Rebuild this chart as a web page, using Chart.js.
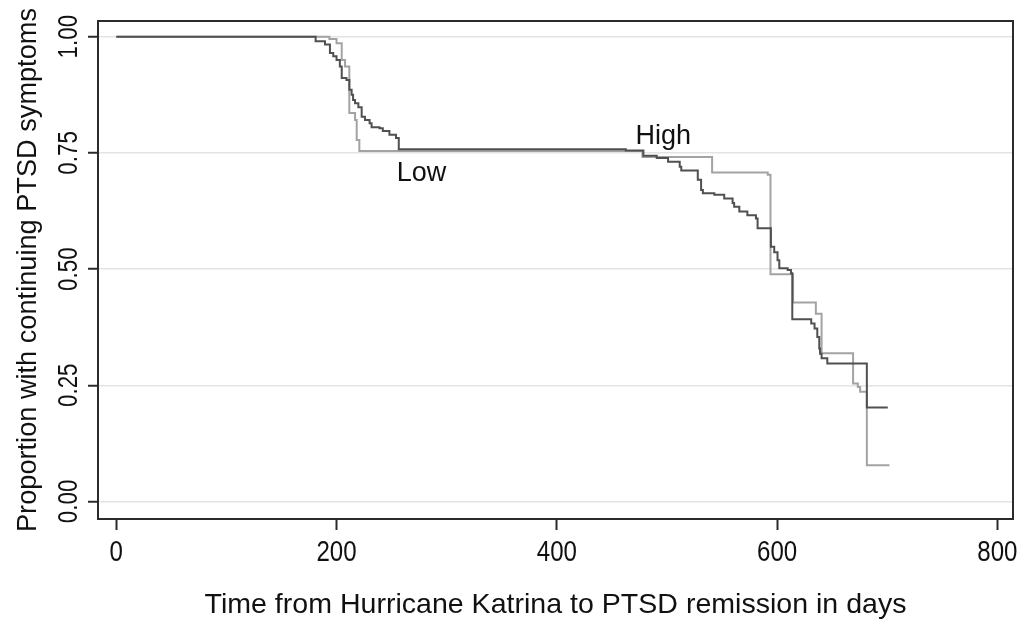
<!DOCTYPE html>
<html>
<head>
<meta charset="utf-8">
<title>PTSD remission after Katrina</title>
<script src="https://cdn.jsdelivr.net/npm/chart.js@4.4.1/dist/chart.umd.min.js"></script>
<style>
  html, body { margin: 0; padding: 0; background: #fff; }
  canvas { display: block; }
</style>
</head>
<body>
<canvas id="km" width="1018" height="620"></canvas>
<script>
// Kaplan-Meier steps: day of each drop and the proportion after it
const highDays = [0, 181, 189.5, 194, 197, 200, 203, 204.7, 209, 211.6, 213.7, 215, 216.8, 219.8, 222.8,
    225.8, 230, 231.8, 239, 242, 248, 254, 256.5, 462.6, 478.6, 490.7, 501, 511.6, 513, 528, 531,
    532.6, 543, 552, 559.6, 561, 565.7, 573, 580.8, 582.3, 594.4, 597.4, 600.4, 602, 609.6, 612.6,
    613.8, 631, 634, 636.5, 638.3, 639, 640.4, 645.6, 681.5, 700.5];
const highSurv = [1, 0.990, 0.983, 0.965, 0.958, 0.950, 0.936, 0.911, 0.907, 0.886, 0.875, 0.864, 0.857, 0.848, 0.828,
    0.821, 0.814, 0.805, 0.803, 0.797, 0.789, 0.782, 0.758, 0.755, 0.744, 0.739, 0.731, 0.720, 0.712, 0.692, 0.670,
    0.663, 0.660, 0.652, 0.642, 0.634, 0.624, 0.616, 0.609, 0.588, 0.548, 0.536, 0.519, 0.502, 0.498, 0.491,
    0.392, 0.383, 0.372, 0.354, 0.329, 0.318, 0.308, 0.297, 0.202, 0.202];

const lowDays = [0, 193.5, 200, 204.7, 207.7, 211.6, 216.8, 218.3, 220.7, 477.7, 541, 591.5, 594,
    614.5, 635.2, 640.4, 669, 673.3, 675.4, 681.5, 702];
const lowSurv = [1, 0.995, 0.986, 0.950, 0.936, 0.836, 0.821, 0.778, 0.754, 0.741, 0.708, 0.703, 0.489,
    0.428, 0.404, 0.319, 0.254, 0.246, 0.236, 0.078, 0.078];

const xTicks = [0, 200, 400, 600, 800];
const xTickLabels = ['0', '200', '400', '600', '800'];
const yTicks = [0, 0.25, 0.5, 0.75, 1];
const yTickLabels = ['0.00', '0.25', '0.50', '0.75', '1.00'];

// curve labels placed in data units (left edge / baseline)
const curveNames = ['High', 'Low'];
const nameDays = [471.5, 254.7];
const nameSurv = [0.769, 0.690];

const xTitle = 'Time from Hurricane Katrina to PTSD remission in days';
const yTitle = 'Proportion with continuing PTSD symptoms';

const FONT = '"Liberation Sans", Arial, sans-serif';
const INK = '#111';

function toPoints(days, surv) {
    return days.map((d, i) => ({ x: d, y: surv[i] }));
}

/**
 * Draw text squeezed horizontally, optionally rotated
 */
function squeezeText(ctx, text, x, y, size, sx, angle) {
    ctx.save();
    ctx.translate(x, y);
    if (angle) ctx.rotate(angle);
    ctx.font = size + 'px ' + FONT;
    if (sx === 'fit') sx = 1;
    ctx.scale(sx, 1);
    ctx.fillText(text, 0, 0);
    ctx.restore();
}

function fitScale(ctx, text, size, target) {
    ctx.save();
    ctx.font = size + 'px ' + FONT;
    const w = ctx.measureText(text).width;
    ctx.restore();
    return target / w;
}

const framePlugin = {
    id: 'frame',
    afterDraw(chart) {
        const { ctx, chartArea: a, scales } = chart;
        ctx.save();
        ctx.strokeStyle = '#2b2b2b';
        ctx.lineWidth = 2;
        ctx.strokeRect(a.left, a.top, a.right - a.left, a.bottom - a.top);

        ctx.fillStyle = INK;
        ctx.textAlign = 'center';
        ctx.textBaseline = 'alphabetic';

        // x tick labels
        xTicks.forEach((v, i) => {
            squeezeText(ctx, xTickLabels[i], scales.x.getPixelForValue(v), 561, 29, 0.83, 0);
        });
        // y tick labels, rotated
        yTicks.forEach((v, i) => {
            squeezeText(ctx, yTickLabels[i], 77, scales.y.getPixelForValue(v), 27, 0.83, -Math.PI / 2);
        });

        // axis titles
        const cx = (a.left + a.right) / 2;
        const cy = (a.top + a.bottom) / 2;
        squeezeText(ctx, xTitle, cx, 612.5, 28, fitScale(ctx, xTitle, 28, 702), 0);
        squeezeText(ctx, yTitle, 35.5, cy, 27, fitScale(ctx, yTitle, 27, 524), -Math.PI / 2);

        // curve names
        ctx.textAlign = 'left';
        curveNames.forEach((name, i) => {
            squeezeText(ctx, name, scales.x.getPixelForValue(nameDays[i]),
                scales.y.getPixelForValue(nameSurv[i]), 27, 1, 0);
        });
        ctx.restore();
    }
};

new Chart(document.getElementById('km'), {
    type: 'line',
    data: {
        datasets: [
            {
                label: 'High',
                data: toPoints(highDays, highSurv),
                borderColor: '#505050',
                borderWidth: 2,
                stepped: true,
                pointRadius: 0,
                fill: false
            },
            {
                label: 'Low',
                data: toPoints(lowDays, lowSurv),
                borderColor: '#a3a3a3',
                borderWidth: 2,
                stepped: true,
                pointRadius: 0,
                fill: false
            }
        ]
    },
    options: {
        responsive: false,
        animation: false,
        events: [],
        layout: { padding: { left: 0, top: 21, right: 5, bottom: 0 } },
        plugins: {
            legend: { display: false },
            tooltip: { enabled: false }
        },
        scales: {
            x: {
                type: 'linear',
                min: -16.6,
                max: 814.2,
                afterBuildTicks: (s) => { s.ticks = xTicks.map(v => ({ value: v })); },
                afterFit: (s) => { s.height = 101; },
                ticks: { display: false },
                border: { display: false },
                grid: {
                    drawOnChartArea: false,
                    drawTicks: true,
                    tickLength: 11,
                    tickColor: '#2b2b2b',
                    tickWidth: 2
                }
            },
            y: {
                type: 'linear',
                min: -0.0378,
                max: 1.0338,
                afterBuildTicks: (s) => { s.ticks = yTicks.map(v => ({ value: v })); },
                afterFit: (s) => { s.width = 98; },
                ticks: { display: false },
                border: { display: false },
                grid: {
                    color: '#e4e4e4',
                    lineWidth: 1.5,
                    drawTicks: true,
                    tickLength: 10,
                    tickColor: '#2b2b2b',
                    tickWidth: 2
                }
            }
        }
    },
    plugins: [framePlugin]
});
</script>
</body>
</html>
